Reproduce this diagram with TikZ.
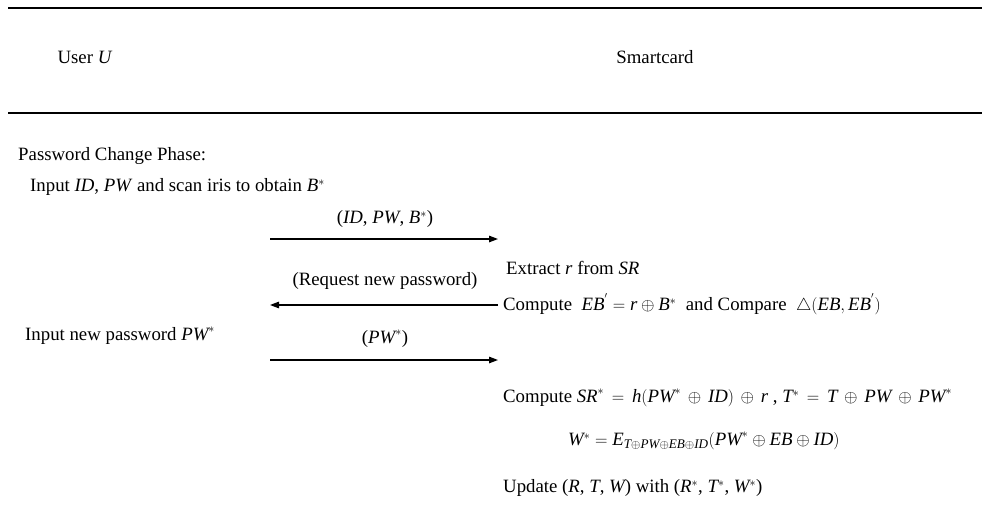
\documentclass[tikz,border=0pt]{standalone}
\usepackage{fontspec}
\setmainfont{Liberation Serif}
\usetikzlibrary{arrows.meta}
\newcommand{\mi}[1]{\mathit{#1}}
\begin{document}
\begin{tikzpicture}[x=1pt,y=-1pt,
  txt/.style={inner sep=0pt,font=\fontsize{18.8}{22}\selectfont},
  rule/.style={line width=1.6pt},
  msg/.style={line width=1.3pt,-{Triangle[length=9pt,width=6.5pt]}}]
\useasboundingbox (0,0) rectangle (982,511);
\coordinate (t1) at (8,8); \coordinate (t2) at (982,8);
\coordinate (b1) at (8,113); \coordinate (b2) at (982,113);
\draw[rule] (t1) -- (t2);
\draw[rule] (b1) -- (b2);
\node[txt] (user) at (85,57) {User \textit{U}};
\node[txt] (card) at (655,57) {Smartcard};
\node[txt,anchor=west] (phase) at (18,156) {Password Change Phase:};
\node[txt,anchor=west] (in1) at (30,187) {Input \textit{ID}, \textit{PW} and scan iris to obtain $\mi{B}^{*}$};
\node[txt] (m1) at (385,219) {($\mi{ID}$, $\mi{PW}$, $\mi{B}^{*}$)};
\coordinate (a1l) at (270,239); \coordinate (a1r) at (498,239);
\draw[msg] (a1l) -- (a1r);
\node[txt,anchor=west] (ex) at (506,268) {Extract \textit{r} from \textit{SR}};
\node[txt,anchor=west] (cmp) at (503,304) {Compute \ $\mi{EB}^{'} = \mi{r}\oplus \mi{B}^{*}$ \ and Compare \ $\triangle(\mi{EB}, \mi{EB}^{'})$};
\node[txt] (m2) at (385,281) {(Request new password)};
\coordinate (a2l) at (270,305); \coordinate (a2r) at (498,305);
\draw[msg] (a2r) -- (a2l);
\node[txt,anchor=west] (in2) at (25,336) {Input new password $\mi{PW}^{*}$};
\node[txt] (m3) at (385,339) {($\mi{PW}^{*}$)};
\coordinate (a3l) at (270,360); \coordinate (a3r) at (498,360);
\draw[msg] (a3l) -- (a3r);
\node[txt,anchor=west] (c2) at (503,398) {\medmuskip=7mu\thickmuskip=8mu Compute $\mi{SR}^{*} = \mi{h}(\mi{PW}^{*}\oplus \mi{ID})\oplus \mi{r}$\ , $\mi{T}^{*} = \mi{T}\oplus\mi{PW}\oplus\mi{PW}^{*}$};
\node[txt,anchor=west] (w) at (568,441) {$\mi{W}^{*} = \mi{E}_{\mi{T}\oplus\mi{PW}\oplus\mi{EB}\oplus\mi{ID}}(\mi{PW}^{*}\oplus\mi{EB}\oplus\mi{ID})$};
\node[txt,anchor=west] (upd) at (503,488) {Update ($\mi{R}$, $\mi{T}$, $\mi{W}$) with ($\mi{R}^{*}$, $\mi{T}^{*}$, $\mi{W}^{*}$)};
\end{tikzpicture}
\end{document}
